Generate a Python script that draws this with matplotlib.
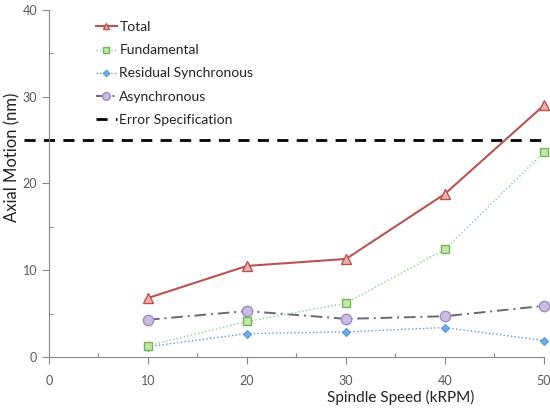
import matplotlib
matplotlib.use("Agg")
import matplotlib.pyplot as plt
from matplotlib.ticker import MultipleLocator

speed = [10, 20, 30, 40, 50]
total = [6.8, 10.5, 11.3, 18.8, 29.0]
fundamental = [1.3, 4.1, 6.2, 12.4, 23.6]
residual = [1.2, 2.7, 2.9, 3.4, 1.9]
asynchronous = [4.3, 5.3, 4.4, 4.7, 5.9]
error_spec = 25
spec_x = [-2.5, 50]

plt.rcParams['font.family'] = ['Lato', 'DejaVu Sans']

fig = plt.figure(figsize=(5.5, 4.09), dpi=100)
ax = fig.add_axes([0.089, 0.127, 0.9, 0.849])

ax.plot(speed, total, color='#B85450', lw=1.5, marker='^', ms=6.5,
        mfc='#E8B4B2', mec='#C0504D', mew=1, label='Total', clip_on=False, zorder=5)
ax.plot(speed, fundamental, color='#8FCB8F', lw=1.0, ls=':', marker='s', ms=6,
        mfc='#C6E6A8', mec='#6DB85A', mew=1, label='Fundamental', clip_on=False, zorder=4)
ax.plot(speed, residual, color='#5B9BD5', lw=1.0, ls=':', marker='D', ms=4.5,
        mfc='#6AAEE8', mec='#5B9BD5', mew=0.8, label='Residual Synchronous', clip_on=False, zorder=3)
ax.plot(speed, asynchronous, color='#6E6478', lw=1.4, ls=(0, (6, 2.5, 1, 2.5)), marker='o', ms=7.5,
        mfc='#C9BCDF', mec='#A08CC4', mew=1, label='Asynchronous', clip_on=False, zorder=3)
ax.plot(spec_x, [error_spec, error_spec], color='black', lw=2, ls=(0, (4, 3)),
        label='Error Specification', clip_on=False, zorder=2)

ax.set_xlim(0, 50)
ax.set_ylim(0, 40)
ax.xaxis.set_major_locator(MultipleLocator(10))
ax.xaxis.set_minor_locator(MultipleLocator(5))
ax.yaxis.set_major_locator(MultipleLocator(10))
ax.yaxis.set_minor_locator(MultipleLocator(5))

for s in ['top', 'right']:
    ax.spines[s].set_visible(False)
for s in ['left', 'bottom']:
    ax.spines[s].set_color('#868686')
    ax.spines[s].set_linewidth(0.8)

ax.tick_params(axis='both', which='major', direction='out', length=5, color='#868686',
               labelsize=9, labelcolor='#595959', width=0.8)
ax.tick_params(axis='both', which='minor', direction='in', length=3, color='#868686', width=0.8)
ax.tick_params(axis='x', which='major', pad=8)

ax.set_ylabel('Axial Motion (nm)', fontsize=12, color='#222222')
ax.set_xlabel('Spindle Speed (kRPM)', fontsize=11, color='#222222')
ax.xaxis.set_label_coords(0.71, -0.095)
ax.yaxis.set_label_coords(-0.058, 0.576)

leg = ax.legend(loc='upper left', bbox_to_anchor=(0.075, 0.995), frameon=False, fontsize=10,
                handlelength=1.5, handletextpad=0.2, labelspacing=0.8, borderpad=0.2,
                markerscale=0.75)
for t in leg.get_texts():
    t.set_color('#222222')

fig.savefig('out.png', dpi=100)
